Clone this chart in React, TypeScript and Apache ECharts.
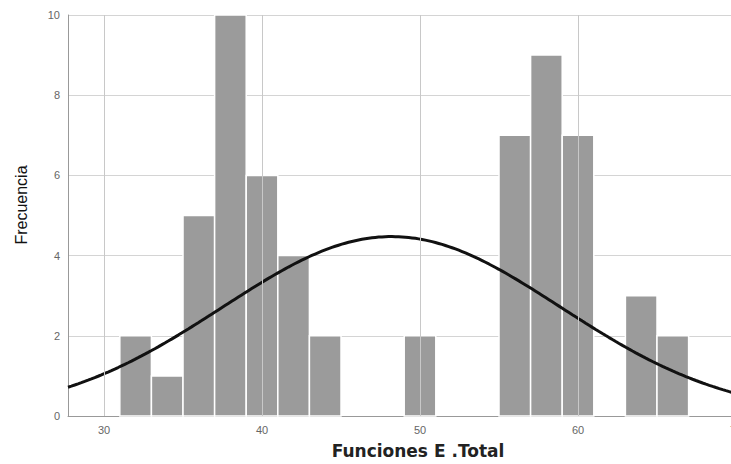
import React, { useEffect, useRef } from "react";
import * as echarts from "echarts";

// Histogram bins (start of bin, width 2) and counts
const binStarts = [31, 33, 35, 37, 39, 41, 43, 49, 55, 57, 59, 63, 65];
const binCounts = [2, 1, 5, 10, 6, 4, 2, 2, 7, 9, 7, 3, 2];
const BIN_WIDTH = 2;
const xTicks = [30, 40, 50, 60, 70];
const gridXTicks = [30, 40, 50, 60];
const X_TITLE = "Funciones E .Total";
const Y_TITLE = "Frecuencia";
// Fitted normal curve parameters
const MEAN = 48.2;
const SD = 10.7;
const N = 60;
const X_MIN = 27.72;
const X_MAX = 70;

export default function App() {
  const ref = useRef<HTMLDivElement>(null);
  useEffect(() => {
    if (!ref.current) return;
    const chart = echarts.init(ref.current, undefined, { renderer: "svg" });
    const bars = binStarts.map((s, i) => [s, s + BIN_WIDTH, binCounts[i]]);
    const curve: number[][] = [];
    const steps = 200;
    for (let i = 0; i <= steps; i++) {
      const x = X_MIN + ((X_MAX - X_MIN) * i) / steps;
      const z = (x - MEAN) / SD;
      const y = (N * BIN_WIDTH) / (SD * Math.sqrt(2 * Math.PI)) * Math.exp(-0.5 * z * z);
      curve.push([x, y]);
    }
    chart.setOption({
      animation: false,
      grid: { left: 68, right: -5, top: 15, bottom: 48, outerBoundsMode: "none", containLabel: false },
      xAxis: {
        type: "value",
        min: X_MIN,
        max: X_MAX,
        axisLine: { show: true, lineStyle: { color: "#999", width: 1 } },
        axisTick: { show: false, customValues: xTicks },
        axisLabel: {
          customValues: xTicks,
          color: "#666",
          fontSize: 11,
          fontFamily: "Liberation Sans",
          margin: 8,
          showMaxLabel: true,
        },
        splitLine: { show: false },
      },
      yAxis: {
        type: "value",
        min: 0,
        max: 10,
        interval: 2,
        axisLine: { show: true, lineStyle: { color: "#999", width: 1 } },
        axisTick: { show: false },
        axisLabel: {
          color: "#666",
          fontSize: 11,
          fontFamily: "Liberation Sans",
          margin: 8,
        },
        splitLine: { show: true, lineStyle: { color: "#d4d4d4", width: 1 } },
      },
      graphic: [
        {
          type: "text",
          x: 21,
          y: 205,
          rotation: Math.PI / 2,
          style: {
            text: Y_TITLE,
            fill: "#111",
            fontSize: 16,
            fontFamily: "Liberation Sans",
            align: "center",
            verticalAlign: "middle",
          },
        },
        {
          type: "text",
          x: 418,
          y: 451,
          style: {
            text: X_TITLE,
            fill: "#222",
            fontSize: 17,
            fontWeight: "bold",
            fontFamily: "DejaVu Sans",
            align: "center",
            verticalAlign: "middle",
          },
        },
      ],
      series: [
        {
          type: "line",
          data: [],
          markLine: {
            silent: true,
            symbol: "none",
            label: { show: false },
            lineStyle: { color: "#c8c8c8", width: 1, type: "solid" },
            data: gridXTicks.map((v) => ({ xAxis: v })),
          },
          z: 1,
        },
        {
          type: "custom",
          z: 2,
          data: bars,
          renderItem: (params: any, api: any) => {
            const p0 = api.coord([api.value(0), api.value(2)]);
            const p1 = api.coord([api.value(1), 0]);
            return {
              type: "rect",
              shape: { x: p0[0], y: p0[1], width: p1[0] - p0[0], height: p1[1] - p0[1] },
              style: { fill: "#9b9b9b", stroke: "#ffffff", lineWidth: 1.5 },
            };
          },
          encode: { x: [0, 1], y: 2 },
        },
        {
          type: "line",
          z: 3,
          data: curve,
          showSymbol: false,
          smooth: false,
          lineStyle: { color: "#111", width: 3 },
        },
      ],
    });
    return () => chart.dispose();
  }, []);
  return (
    <div
      ref={ref}
      style={{ position: "fixed", left: 0, top: 0, width: 731, height: 464, background: "#fff" }}
    />
  );
}
